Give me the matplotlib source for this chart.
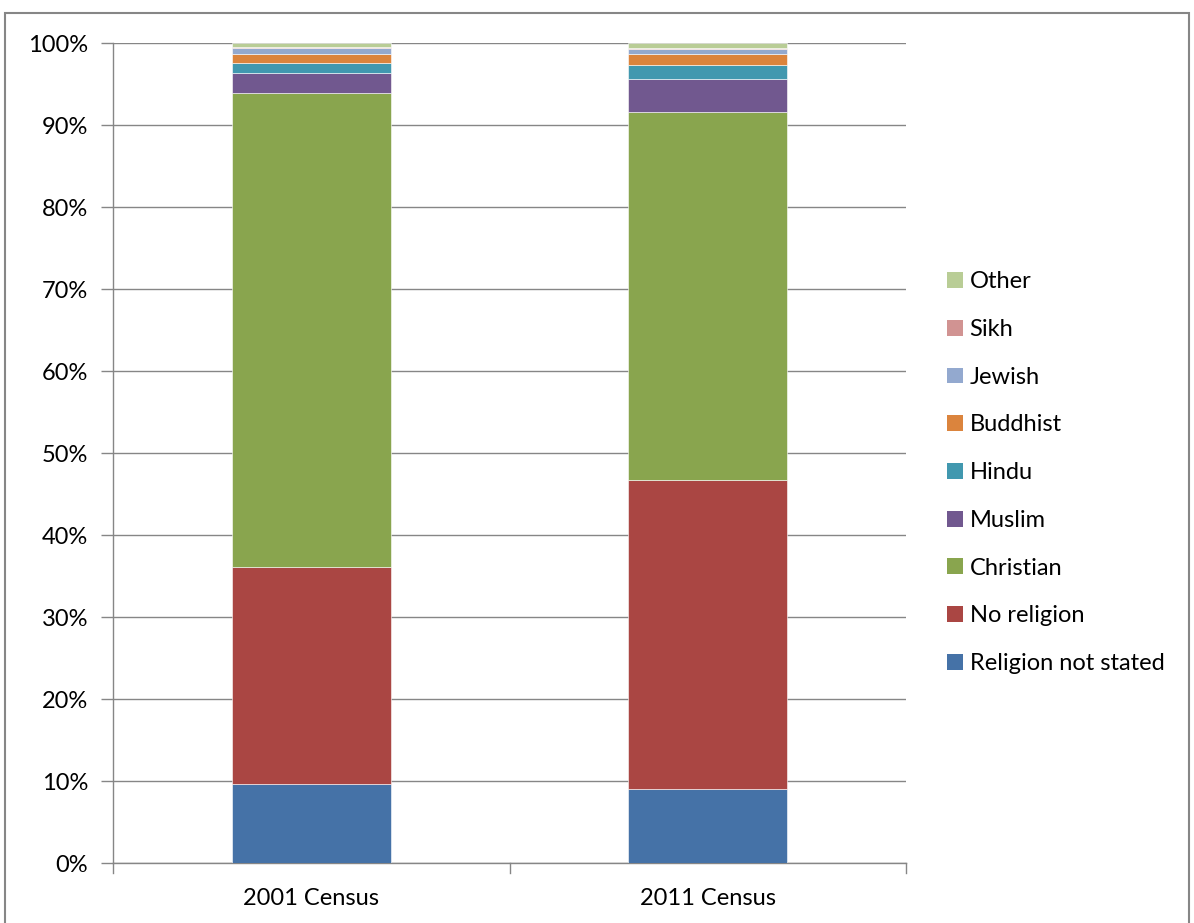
import matplotlib
matplotlib.use("Agg")
import matplotlib.pyplot as plt
from matplotlib.patches import Patch, Rectangle
import numpy as np

plt.rcParams['font.family'] = ['Lato', 'DejaVu Sans']

censuses = ["2001 Census", "2011 Census"]
groups = ["Religion not stated", "No religion", "Christian", "Muslim", "Hindu",
          "Buddhist", "Jewish", "Sikh", "Other"]
share_2001 = [9.6, 26.5, 57.8, 2.5, 1.2, 1.0, 0.8, 0.1, 0.5]
share_2011 = [9.0, 37.7, 44.9, 4.0, 1.7, 1.3, 0.7, 0.1, 0.6]
colors = ["#4572A7", "#AA4643", "#89A54E", "#71588F", "#4198AF",
          "#DB843D", "#93A9CF", "#D19392", "#B9CD96"]

FS = 17

fig = plt.figure(figsize=(11.94, 9.23), dpi=100)
W, H = 1194, 923
ax = fig.add_axes([113 / W, (H - 863) / H, 793 / W, 820 / H])

x = np.arange(len(censuses))
data = np.array([share_2001, share_2011]).T
bottom = np.zeros(len(censuses))
handles = []
for g, vals, c in zip(groups, data, colors):
    ax.bar(x, vals, width=0.4, bottom=bottom, color=c, edgecolor="#ffffff",
           linewidth=0.4, zorder=3)
    bottom += vals
    handles.append(Patch(facecolor=c, edgecolor="none", label=g))

ax.set_xlim(-0.5, 1.5)
ax.set_ylim(0, 100)
ax.set_yticks(np.arange(0, 101, 10))
ax.set_yticklabels([f"{v}%" for v in range(0, 101, 10)], fontsize=FS)
ax.set_xticks(x)
ax.set_xticklabels(censuses, fontsize=FS)
ax.tick_params(axis="x", length=0, pad=18)
ax.tick_params(axis="y", length=9, width=1, color="#868686", pad=9)
# category boundary ticks on the x axis
for xb in [-0.5, 0.5, 1.5]:
    ax.plot([xb, xb], [0, -1.2], color="#868686", lw=1, clip_on=False, zorder=4)

ax.grid(axis="y", color="#868686", lw=1, zorder=0)
for s in ["top", "right"]:
    ax.spines[s].set_visible(False)
for s in ["left", "bottom"]:
    ax.spines[s].set_color("#868686")
    ax.spines[s].set_linewidth(1)

leg = fig.legend(handles=handles[::-1], loc="upper left",
                 bbox_to_anchor=(938 / W, 1 - 262 / H), frameon=False,
                 fontsize=FS, handlelength=0.66, handleheight=0.66,
                 handletextpad=0.28, labelspacing=1.13, borderaxespad=0)

# outer chart border
fig.add_artist(Rectangle((5 / W, -0.01), 1184 / W, 1 - 13 / H + 0.01,
                         transform=fig.transFigure, fill=False,
                         edgecolor="#868686", lw=1.5))

fig.savefig("out.png", dpi=100)
